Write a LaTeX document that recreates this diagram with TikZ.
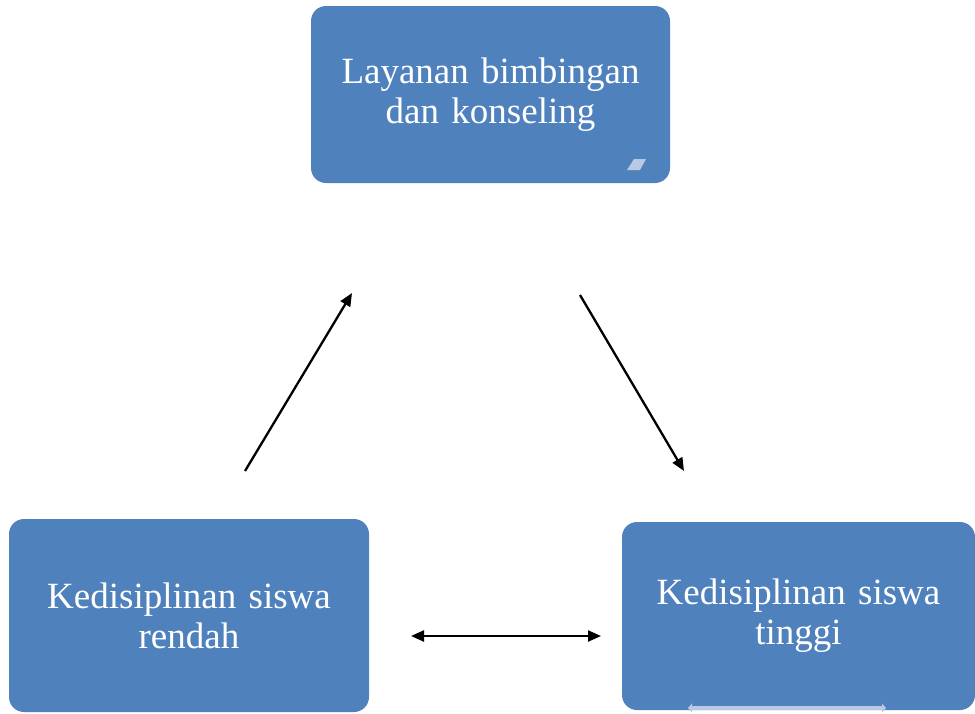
\documentclass[tikz,border=0pt]{standalone}
\usepackage{fontspec}
\setmainfont{Liberation Serif}
\usetikzlibrary{arrows.meta}
\definecolor{boxblue}{HTML}{4F81BD}
\definecolor{paleblue}{HTML}{B9C9E3}
\tikzset{
  box/.style={draw=none, fill=boxblue, rounded corners=15pt, inner sep=0pt,
    text=white, align=center, font=\fontsize{37}{40}\selectfont},
  conn/.style={line width=2.3pt, -{Triangle[length=13pt,width=11pt]}},
  dconn/.style={line width=2.3pt, {Triangle[length=13pt,width=11pt]}-{Triangle[length=13pt,width=11pt]}},
}
\begin{document}
\begin{tikzpicture}[x=1pt,y=-1pt]
\useasboundingbox (0,0) rectangle (975,713);
\node[box, minimum width=359pt, minimum height=177pt, text width=340pt] (top) at (490.5,94.5) {Layanan bimbingan\\dan konseling};
\node[box, minimum width=360pt, minimum height=193pt, text width=340pt] (left) at (189,615.5) {Kedisiplinan siswa\\rendah};
\node[box, minimum width=353pt, minimum height=188pt, text width=340pt] (right) at (798.5,616) {Kedisiplinan siswa\\tinggi};
\coordinate (a1s) at (245,471);
\coordinate (a1e) at (352,293);
\coordinate (a2s) at (580,295);
\coordinate (a2e) at (684,471);
\coordinate (a3s) at (411,636);
\coordinate (a3e) at (601,636);
\draw[conn] (a1s) -- (a1e);
\draw[conn] (a2s) -- (a2e);
\draw[dconn] (a3s) -- (a3e);
\fill[paleblue] (627,170) -- (634,159) -- (646,159) -- (640,170) -- cycle;
\coordinate (b1) at (688,708);
\coordinate (b2) at (886,708);
\draw[paleblue, line width=4pt, {Triangle[length=4pt,width=9pt]}-{Triangle[length=4pt,width=9pt]}] (b1) -- (b2);
\end{tikzpicture}
\end{document}
